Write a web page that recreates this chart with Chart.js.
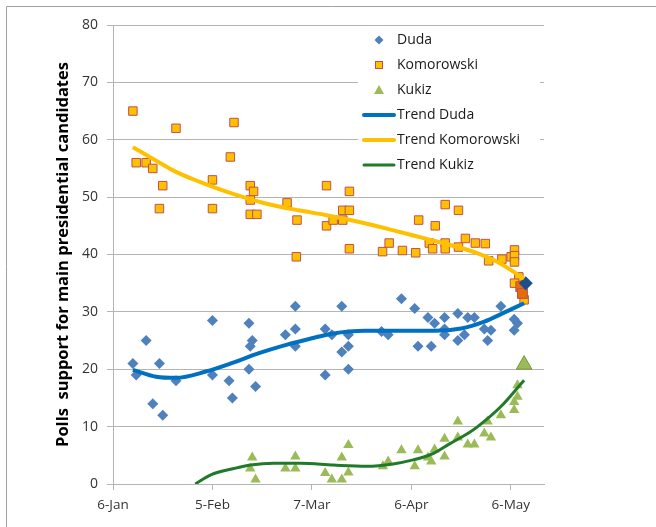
<!DOCTYPE html>
<html>
<head>
<meta charset="utf-8">
<script src="https://cdn.jsdelivr.net/npm/chart.js@4"></script>
<style>
  body { margin: 0; background: #fff; }
</style>
</head>
<body>
<canvas id="pollsChart" width="656" height="527"></canvas>
<script>
const ctx = document.getElementById('pollsChart').getContext('2d');

// x values are days after 6 Jan
const dayTicks = [0, 30, 60, 90, 120];
const dayTickLabels = ['6-Jan', '5-Feb', '7-Mar', '6-Apr', '6-May'];

const dudaPolls = [
  [6, 21], [7, 19], [10, 25], [14, 21], [12, 14], [15, 12], [19, 18],
  [30, 28.5], [30, 19], [35, 18], [36, 15], [41, 28], [42, 25], [41.4, 24],
  [41, 20], [43, 17], [52, 26], [55, 31], [55, 27], [55, 24], [69, 31],
  [64, 27], [66, 26], [71, 26], [71, 24], [69, 23], [64, 19], [71, 20],
  [81, 26.6], [83, 26], [87, 32.3], [91, 30.6], [92, 24], [95, 29], [96, 24],
  [97, 28], [100, 29], [100, 27], [100, 26], [104, 29.7], [104, 25], [106, 26],
  [107, 29], [109, 29], [112, 27], [113, 25], [114, 26.8], [117, 31],
  [121, 28.7], [121, 26.8], [122, 28],
];
const komorowskiPolls = [
  [6, 65], [7, 56], [10, 56], [12, 55], [14, 48], [15, 52], [19, 62],
  [30, 53], [30, 48], [35.4, 57], [36.5, 63], [41.4, 52], [42.4, 51],
  [41.4, 49.5], [41.4, 47], [43.4, 47], [52.5, 49], [55.5, 46], [55.3, 39.6],
  [64.4, 52], [64.4, 45], [66.4, 46], [69.3, 47.7], [69.3, 46], [71.3, 51],
  [71.3, 47.7], [71.3, 41], [81.3, 40.5], [83.3, 42], [87.3, 40.7],
  [91.3, 40.3], [92.2, 46], [95.4, 42], [96.4, 41], [97.2, 45], [100.2, 48.7],
  [100.2, 42], [100.2, 41], [104.2, 47.7], [104.2, 41.3], [106.3, 42.8],
  [109.3, 42], [112.3, 41.9], [113.3, 38.9], [117.3, 39.2], [120.1, 39.6],
  [121.1, 40.8], [121.1, 39.8], [121.1, 38.7], [122.4, 36.1], [121.1, 35],
  [124, 32.1],
];
const kukizPolls = [
  [41.4, 2.7], [42, 4.6], [43, 0.8], [52, 2.7], [55, 4.8], [55, 2.7],
  [64, 1.9], [66, 0.8], [69, 0.8], [69, 4.6], [71, 2], [71, 6.8],
  [81.4, 3.1], [83, 3.9], [87, 5.9], [91, 3.1], [92, 5.9], [95, 4.6],
  [96, 3.9], [97, 6], [100, 7.9], [100, 4.8], [104, 10.9], [104, 8.1],
  [107, 6.9], [109, 6.9], [112, 8.8], [113, 10.9], [114, 8.1], [117, 12],
  [121, 12.9], [121, 14.3], [122, 15.2], [122, 17.2],
];

// final results, highlighted
const dudaFinal = [[124.5, 35]];
const komorowskiFinal = [[123, 34.4], [123.5, 33.2]];
const kukizFinal = [[124, 20.8]];

// trend lines
const dudaTrend = [
  [6, 19.9], [13, 18.7], [19, 18.5], [28, 19.6], [36, 21.1], [44, 22.8],
  [52, 24.2], [60, 25.4], [66, 26.2], [76, 26.7], [87, 26.7], [97, 26.7],
  [105, 27.1], [112, 28.3], [117, 29.6], [124, 31.5],
];
const komorowskiTrend = [
  [6, 58.7], [12, 56.7], [19, 54.4], [26, 52.7], [36, 50.6], [46, 48.9],
  [56, 47.7], [64, 46.9], [74, 45.7], [84, 44.3], [94, 42.8], [104, 41.3],
  [110, 40.2], [116, 38.7], [124, 35.8],
];
const kukizTrend = [
  [24.8, 0], [29.5, 1.6], [36.5, 2.7], [41.5, 3.3], [48.5, 3.6], [56.5, 3.6],
  [66.5, 3.3], [76.5, 3.1], [84.5, 3.5], [90.5, 4.2], [96.5, 5.3],
  [101.5, 7], [107, 8.8], [110, 10], [117, 13.5], [124, 18.1],
];

const toXY = (pairs) => pairs.map(([x, y]) => ({ x, y }));

const FONT = "'Open Sans', sans-serif";
const GRID = '#b4b4b4';

const trendStyle = (color, width) => ({
  type: 'line',
  borderColor: color,
  borderWidth: width,
  pointRadius: 0,
  cubicInterpolationMode: 'monotone',
  fill: false,
  order: 0,
});

const legendItems = [
  { text: 'Duda', kind: 'diamond', color: '#4f81bd' },
  { text: 'Komorowski', kind: 'square', color: '#ffc000', border: '#c0504d' },
  { text: 'Kukiz', kind: 'triangle', color: '#9bbb59' },
  { text: 'Trend Duda', kind: 'line', color: '#0070c0', width: 4 },
  { text: 'Trend Komorowski', kind: 'line', color: '#ffc000', width: 4 },
  { text: 'Trend Kukiz', kind: 'line', color: '#217a2a', width: 3 },
];

const framePlugin = {
  id: 'frame',
  beforeDraw(chart) {
    const c = chart.ctx;
    c.save();
    c.fillStyle = '#fff';
    c.fillRect(0, 0, chart.width, chart.height);
    c.strokeStyle = '#a0a0a0';
    c.lineWidth = 1;
    c.beginPath();
    c.moveTo(6.5, chart.height);
    c.lineTo(6.5, 6.5);
    c.lineTo(chart.width, 6.5);
    c.stroke();
    c.restore();
  },
};

const boxLegendPlugin = {
  id: 'boxLegend',
  afterDatasetsDraw(chart) {
    const c = chart.ctx;
    c.save();
    c.fillStyle = '#fff';
    c.fillRect(358, 30, 182, 150);
    c.font = '14px ' + FONT;
    c.textBaseline = 'middle';
    legendItems.forEach((item, i) => {
      const y = 40 + i * 25;
      const mx = 379;
      c.fillStyle = item.color;
      if (item.kind === 'diamond') {
        c.beginPath();
        c.moveTo(mx, y - 4.5);
        c.lineTo(mx + 4.5, y);
        c.lineTo(mx, y + 4.5);
        c.lineTo(mx - 4.5, y);
        c.closePath();
        c.fill();
      } else if (item.kind === 'square') {
        c.fillRect(mx - 3.5, y - 3.5, 7, 7);
        c.strokeStyle = item.border;
        c.lineWidth = 1;
        c.strokeRect(mx - 3.5, y - 3.5, 7, 7);
      } else if (item.kind === 'triangle') {
        c.beginPath();
        c.moveTo(mx, y - 5);
        c.lineTo(mx + 5, y + 4);
        c.lineTo(mx - 5, y + 4);
        c.closePath();
        c.fill();
      } else {
        c.strokeStyle = item.color;
        c.lineWidth = item.width;
        c.lineCap = 'round';
        c.beginPath();
        c.moveTo(364, y);
        c.lineTo(394, y);
        c.stroke();
      }
      c.fillStyle = '#1a1a1a';
      c.fillText(item.text, 397, y);
    });
    c.restore();
  },
};

new Chart(ctx, {
  type: 'scatter',
  data: {
    datasets: [
      { label: 'Trend Duda', data: toXY(dudaTrend), ...trendStyle('#0070c0', 4) },
      { label: 'Trend Komorowski', data: toXY(komorowskiTrend), ...trendStyle('#ffc000', 4) },
      { label: 'Trend Kukiz', data: toXY(kukizTrend), ...trendStyle('#217a2a', 3) },
      {
        label: 'Duda final',
        data: toXY(dudaFinal),
        pointStyle: 'rectRot',
        pointRadius: 7,
        backgroundColor: '#1f4e8c',
        borderWidth: 0,
        order: 1,
      },
      {
        label: 'Komorowski final',
        data: toXY(komorowskiFinal),
        pointStyle: 'rect',
        pointRadius: 7,
        backgroundColor: '#e46c0a',
        borderColor: '#c0504d',
        borderWidth: 1,
        order: 1,
      },
      {
        label: 'Kukiz final',
        data: toXY(kukizFinal),
        pointStyle: 'triangle',
        pointRadius: 9,
        backgroundColor: '#9bbb59',
        borderColor: '#77933c',
        borderWidth: 1,
        order: 1,
      },
      {
        label: 'Duda',
        data: toXY(dudaPolls),
        pointStyle: 'rectRot',
        pointRadius: 5.5,
        backgroundColor: '#4f81bd',
        borderWidth: 0,
        order: 2,
      },
      {
        label: 'Komorowski',
        data: toXY(komorowskiPolls),
        pointStyle: 'rect',
        pointRadius: 6,
        backgroundColor: '#ffc000',
        borderColor: '#c0504d',
        borderWidth: 1,
        order: 2,
      },
      {
        label: 'Kukiz',
        data: toXY(kukizPolls),
        pointStyle: 'triangle',
        pointRadius: 6,
        backgroundColor: '#9bbb59',
        borderWidth: 0,
        order: 2,
      },
    ],
  },
  options: {
    responsive: false,
    animation: false,
    layout: {
      padding: { left: 0, top: 25, right: 112, bottom: 0 },
    },
    scales: {
      x: {
        type: 'linear',
        min: 0,
        max: 130,
        afterBuildTicks: (axis) => {
          axis.ticks = dayTicks.map((v) => ({ value: v }));
        },
        afterFit: (scale) => {
          scale.height = 43;
        },
        grid: {
          drawOnChartArea: false,
          drawTicks: true,
          tickLength: 6,
          color: GRID,
        },
        border: { color: GRID },
        ticks: {
          padding: 7,
          color: '#333',
          font: { family: FONT, size: 13.5 },
          maxRotation: 0,
          callback: (value) => {
            const i = dayTicks.indexOf(value);
            return i >= 0 ? dayTickLabels[i] : '';
          },
        },
      },
      y: {
        min: 0,
        max: 80,
        afterFit: (scale) => {
          scale.width = 113;
        },
        grid: {
          color: GRID,
          tickLength: 6,
        },
        border: { color: GRID },
        ticks: {
          stepSize: 10,
          padding: 9,
          color: '#333',
          font: { family: FONT, size: 14 },
        },
        title: {
          display: true,
          text: 'Polls  support for main presidential candidates',
          color: '#000',
          font: { family: FONT, size: 16.5, weight: 'bold' },
          padding: { top: 53, bottom: 0 },
        },
      },
    },
    plugins: {
      legend: { display: false },
      tooltip: { enabled: false },
    },
  },
  plugins: [framePlugin, boxLegendPlugin],
});
</script>
</body>
</html>
